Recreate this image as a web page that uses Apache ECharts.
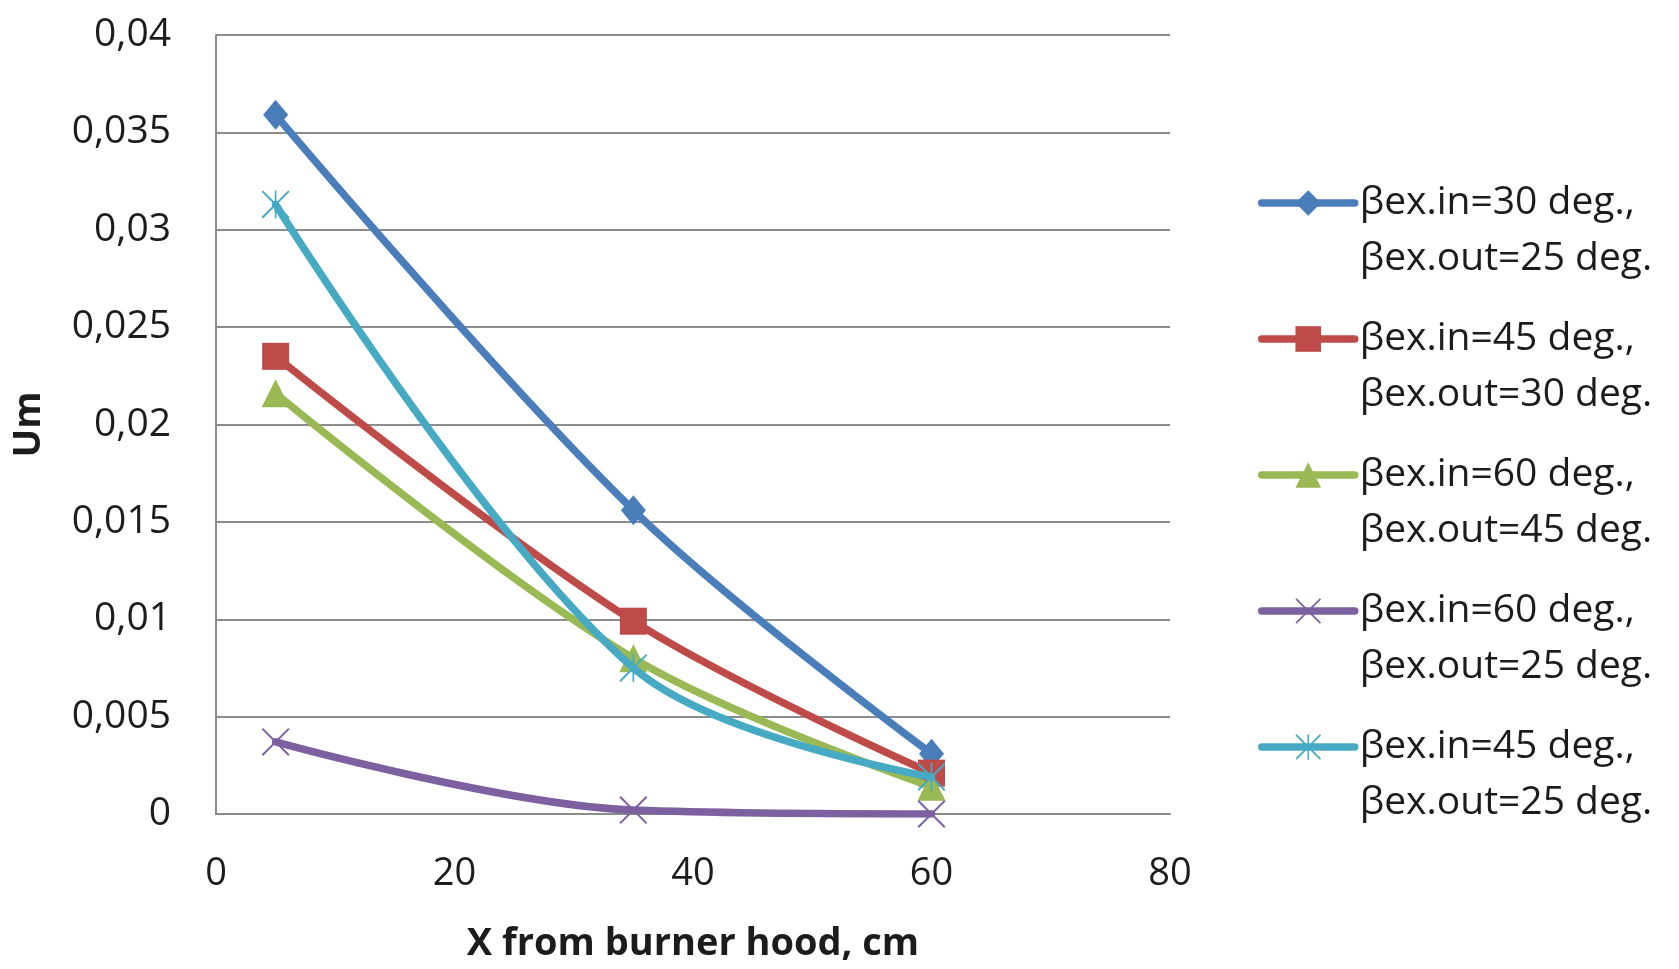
<!DOCTYPE html>
<html>
<head>
<meta charset="utf-8">
<script src="https://cdn.jsdelivr.net/npm/echarts@6/dist/echarts.min.js"></script>
<style>
  html, body { margin: 0; padding: 0; background: #ffffff; }
  #chart { width: 1679px; height: 969px; }
</style>
</head>
<body>
<div id="chart"></div>
<script>
// Distance from the burner hood (cm) at which Um was measured
const xPositions = [5, 35, 60];

// Um values per inlet/outlet swirl angle combination
const umIn30Out25 = [0.0359, 0.0156, 0.0031];
const umIn45Out30 = [0.0235, 0.0099, 0.0021];
const umIn60Out45 = [0.0216, 0.0080, 0.0014];
const umIn60Out25 = [0.0037, 0.0002, 0.0];
const umIn45Out25b = [0.0313, 0.0075, 0.0019];

const seriesNames = [
  'βex.in=30 deg.,\nβex.out=25 deg.',
  'βex.in=45 deg.,\nβex.out=30 deg.',
  'βex.in=60 deg.,\nβex.out=45 deg.',
  'βex.in=60 deg.,\nβex.out=25 deg.',
  'βex.in=45 deg.,\nβex.out=25 deg.'
];
const seriesValues = [umIn30Out25, umIn45Out30, umIn60Out45, umIn60Out25, umIn45Out25b];
const seriesColors = ['#4a7ebb', '#be4b48', '#98b954', '#7d60a0', '#46aac5'];

// Axis tick labels (comma decimal separator)
const yTickLabels = ['0', '0,005', '0,01', '0,015', '0,02', '0,025', '0,03', '0,035', '0,04'];
const xTickLabels = ['0', '20', '40', '60', '80'];

// Marker shapes: diamond, square, triangle, thin X, asterisk
const xMark = 'path://M0,5 L5,0 L100,95 L95,100 Z M95,0 L100,5 L5,100 L0,95 Z';
const starMark = 'path://M0,5 L5,0 L100,95 L95,100 Z M95,0 L100,5 L5,100 L0,95 Z M47,0 L53,0 L53,100 L47,100 Z';
const symbols = ['diamond', 'rect', 'triangle', xMark, starMark];
const symbolSizes = [[25, 30], 27, 28, 28, 28];

const FONT = '"Open Sans", "Liberation Sans", sans-serif';
const TEXT = '#1c1c1c';
const GRID_COLOR = '#8c8c8c';

const series = seriesNames.map((name, i) => ({
  name: name,
  type: 'line',
  smooth: 0.35,
  data: xPositions.map((x, j) => [x, seriesValues[i][j]]),
  symbol: symbols[i],
  symbolSize: symbolSizes[i],
  showAllSymbol: true,
  z: 2 + i,
  lineStyle: { color: seriesColors[i], width: 7.5, cap: 'round', join: 'round' },
  itemStyle: { color: seriesColors[i], borderWidth: 0 },
  emphasis: { disabled: true }
}));

const chart = echarts.init(document.getElementById('chart'), null, { renderer: 'canvas' });
chart.setOption({
  animation: false,
  backgroundColor: '#ffffff',
  grid: { left: 216, right: 509, top: 35, bottom: 155, containLabel: false },
  xAxis: {
    type: 'value',
    min: 0, max: 80, interval: 20,
    name: 'X from burner hood, cm',
    nameLocation: 'middle',
    nameGap: 111,
    nameTextStyle: { fontFamily: FONT, fontSize: 38, fontWeight: 'bold', color: TEXT },
    axisLine: { show: true, lineStyle: { color: GRID_COLOR, width: 2 } },
    axisTick: { show: false },
    splitLine: { show: false },
    axisLabel: {
      margin: 41,
      fontFamily: FONT, fontSize: 38, color: TEXT,
      formatter: (v, idx) => xTickLabels[idx]
    }
  },
  yAxis: {
    type: 'value',
    min: 0, max: 0.04, interval: 0.005,
    name: 'Um',
    nameLocation: 'middle',
    nameRotate: 90,
    nameGap: 168,
    nameTextStyle: { fontFamily: FONT, fontSize: 38, fontWeight: 'bold', color: TEXT },
    axisLine: { show: true, lineStyle: { color: GRID_COLOR, width: 2 } },
    axisTick: { show: false },
    splitLine: { show: true, lineStyle: { color: GRID_COLOR, width: 2 } },
    axisLabel: {
      margin: 45,
      fontFamily: FONT, fontSize: 39, color: TEXT,
      formatter: (v, idx) => yTickLabels[idx]
    }
  },
  legend: {
    orient: 'vertical',
    left: 1258,
    top: 119,
    padding: 0,
    itemWidth: 93,
    itemHeight: 32,
    itemGap: -32,
    selectedMode: false,
    data: seriesNames,
    // leading blank line keeps the first text line level with the legend icon
    formatter: name => '\n' + name,
    lineStyle: { width: 7.5, cap: 'round' },
    textStyle: {
      fontFamily: FONT, fontSize: 39, color: TEXT,
      lineHeight: 56
    }
  },
  series: series
});
</script>
</body>
</html>
